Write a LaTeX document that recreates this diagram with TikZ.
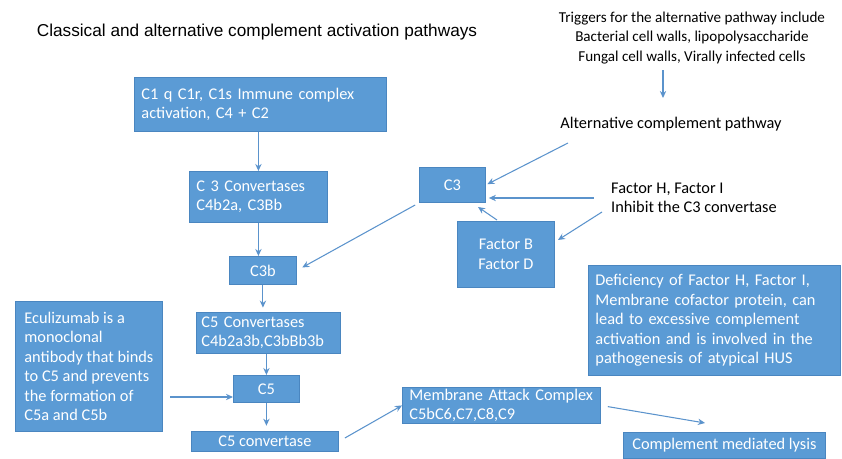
\documentclass[tikz,border=0pt]{standalone}
\usepackage{fontspec}
\setmainfont{Liberation Sans}
\newfontfamily\calib{Carlito}
\usetikzlibrary{arrows.meta}

\definecolor{boxfill}{HTML}{5B9BD5}
\definecolor{boxline}{HTML}{4A86C0}
\definecolor{arrowblue}{HTML}{5B93CC}
\newcommand\pathfont{\calib\fontsize{9.3}{11.1}\selectfont}

\tikzset{
	box/.style={draw=boxline, line width=0.5pt, fill=boxfill, text=white, font=\pathfont,
		inner xsep=0.14cm, inner ysep=0pt, anchor=north west, align=left},
	cbox/.style={box, align=center},
	plain/.style={font=\pathfont, text=black},
	arr/.style={draw=arrowblue, line width=0.6pt, -{Stealth[length=4pt,width=3.6pt]}},
}

\begin{document}
\begin{tikzpicture}[x=0.02cm, y=-0.02cm]
	
	\useasboundingbox (0,0) rectangle (842,459);
	
	% Title
	\node[font=\fontsize{9.8}{12}\selectfont] (title) at (257,32) {Classical and alternative complement activation pathways};
	
	%% CLASSICAL PATHWAY
	% Boxes
	\node[box, text width=4.76cm, minimum height=1.08cm] (c1q) at (134,77) {C1 q C1r, C1s Immune complex\\activation, C4 + C2};
	\node[box, text width=2.48cm, minimum height=1.02cm] (c3conv) at (189,171) {C 3 Convertases\\C4b2a, C3Bb};
	\node[cbox, minimum width=1.34cm, minimum height=0.56cm] (c3b) at (229,256) {C3b};
	\node[box, inner xsep=0.1cm, text width=2.68cm, minimum height=0.82cm] (c5conv) at (196,312) {C5 Convertases\\C4b2a3b,C3bBb3b};
	\node[cbox, minimum width=1.32cm, minimum height=0.54cm] (c5) at (233,375) {C5};
	\node[cbox, minimum width=2.94cm, minimum height=0.40cm] (c5cvt) at (191,431) {C5 convertase};
	\node[box, inner xsep=0pt, minimum width=2.94cm, minimum height=2.6cm] (ecu) at (15,301) {Eculizumab is a\\monoclonal\\antibody that binds\\to C5 and prevents\\the formation of\\C5a and C5b};
	\node[box, text width=3.68cm, minimum height=0.72cm] (mac) at (402,387) {Membrane Attack Complex\\C5bC6,C7,C8,C9};
	\node[cbox, minimum width=4.04cm, minimum height=0.52cm] (lysis) at (623,432) {Complement mediated lysis};
	
	% Arrows
	\draw[arr] (c1q.south -| c3conv.north) -- (c3conv.north);
	\draw[arr] (c3conv.south) -- (c3conv.south |- c3b.north);
	\draw[arr, shorten >=2.5pt] (c3b.south) -- (c3b.south |- c5conv.north);
	\draw[arr] (c5conv.south -| c5.north) -- (c5.north);
	\draw[arr, shorten >=3pt] (c5.south) -- (c5.south |- c5cvt.north);
	\coordinate (ecuout) at (170,397);
	\draw[arr] (ecuout) -- (c5.west |- ecuout);
	\draw[arr, shorten <=4pt] (c5cvt.east) -- (mac.west);
	\coordinate (lysin) at (705,423);
	\draw[arr, shorten <=4pt] (mac.east) -- (lysin);
	
	%% ALTERNATIVE PATHWAY
	% Texts
	\node[plain, align=center, font=\calib\fontsize{8.6}{11.1}\selectfont] (trig) at (692,38) {Triggers for the alternative pathway include\\Bacterial cell walls, lipopolysaccharide\\Fungal cell walls, Virally infected cells};
	\node[plain] (alt) at (671,124) {Alternative complement pathway};
	\node[plain, align=left, anchor=west] (fh) at (605,198) {Factor H, Factor I\\Inhibit the C3 convertase};
	
	% Boxes
	\node[cbox, minimum width=1.32cm, minimum height=0.70cm] (c3) at (419,167) {C3};
	\node[cbox, minimum width=1.94cm, minimum height=1.32cm] (fbd) at (457,221) {Factor B\\Factor D};
	\node[box, text width=4.76cm, minimum height=2.2cm] (defic) at (588,265) {Deficiency of Factor H, Factor I,\\Membrane cofactor protein, can\\lead to excessive complement\\activation and is involved in the\\pathogenesis of atypical HUS};
	
	% Arrows
	\coordinate (altin) at (663,98);
	\draw[arr] (trig.south -| altin) -- (altin);
	\coordinate (altout) at (568,143);
	\draw[arr, shorten >=1pt] (altout) -- (c3.east);
	\draw[arr, shorten <=6.5pt, shorten >=1.7pt] (fh.west) -- (c3.east |- fh.west);
	\coordinate (fhout) at (602,212);
	\coordinate (fbdin) at (558,240);
	\draw[arr] (fhout) -- (fbdin);
	\coordinate (fbdout) at (497,220);
	\coordinate (c3in) at (478,207);
	\draw[arr] (fbdout) -- (c3in);
	\draw[arr, shorten <=2.5pt, shorten >=3.5pt] (c3.south west) -- (c3b.east);
	
\end{tikzpicture}
\end{document}
